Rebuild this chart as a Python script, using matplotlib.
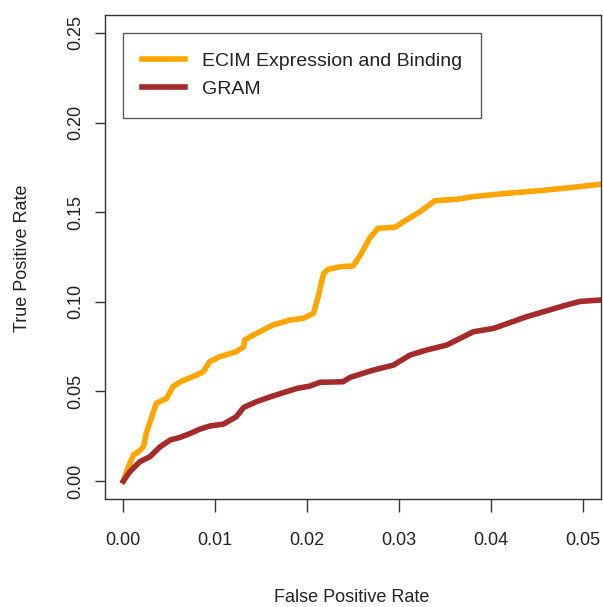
import numpy as np
import matplotlib
matplotlib.use("Agg")
import matplotlib.pyplot as plt

# ROC curves (false positive rate vs true positive rate)
ecim_fpr = [0.0000, 0.0005, 0.0011, 0.0016, 0.0022, 0.0025, 0.0031, 0.0036, 0.0047,
            0.0054, 0.0062, 0.0080, 0.0087, 0.0094, 0.0105, 0.0123, 0.0131, 0.0132,
            0.0145, 0.0163, 0.0181, 0.0196, 0.0207, 0.0212, 0.0218, 0.0223, 0.0236,
            0.0250, 0.0258, 0.0268, 0.0277, 0.0296, 0.0305, 0.0323, 0.0339, 0.0363,
            0.0381, 0.0417, 0.0453, 0.0490, 0.0519]
ecim_tpr = [0.0000, 0.0073, 0.0145, 0.0162, 0.0191, 0.0266, 0.0359, 0.0434, 0.0461,
            0.0526, 0.0554, 0.0592, 0.0610, 0.0666, 0.0694, 0.0722, 0.0749, 0.0787,
            0.0824, 0.0871, 0.0898, 0.0908, 0.0936, 0.1028, 0.1159, 0.1181, 0.1196,
            0.1200, 0.1261, 0.1354, 0.1410, 0.1416, 0.1447, 0.1503, 0.1564, 0.1572,
            0.1587, 0.1605, 0.1620, 0.1639, 0.1656]

gram_fpr = [0.0000, 0.0007, 0.0018, 0.0029, 0.0040, 0.0051, 0.0062, 0.0073, 0.0083,
            0.0094, 0.0109, 0.0123, 0.0131, 0.0145, 0.0160, 0.0174, 0.0189, 0.0203,
            0.0214, 0.0239, 0.0247, 0.0272, 0.0294, 0.0312, 0.0330, 0.0352, 0.0381,
            0.0403, 0.0439, 0.0482, 0.0497, 0.0519]
gram_tpr = [0.0000, 0.0052, 0.0108, 0.0136, 0.0191, 0.0229, 0.0244, 0.0266, 0.0289,
            0.0307, 0.0318, 0.0359, 0.0411, 0.0443, 0.0470, 0.0493, 0.0517, 0.0530,
            0.0551, 0.0554, 0.0579, 0.0619, 0.0647, 0.0703, 0.0731, 0.0759, 0.0833,
            0.0852, 0.0917, 0.0982, 0.1002, 0.1010]

x_ticks = [0.00, 0.01, 0.02, 0.03, 0.04, 0.05]
y_ticks = [0.00, 0.05, 0.10, 0.15, 0.20, 0.25]

plt.rcParams['font.family'] = ['Liberation Sans', 'DejaVu Sans']

fig = plt.figure(figsize=(6.03, 6.07), dpi=100)
ax = fig.add_axes([105 / 603, 108 / 607, 496 / 603, 484 / 607])

ax.plot(ecim_fpr, ecim_tpr, color='#FFA500', lw=4.0, solid_joinstyle='round',
        label='ECIM Expression and Binding')
ax.plot(gram_fpr, gram_tpr, color='#A52A2A', lw=4.0, solid_joinstyle='round',
        label='GRAM')

ax.set_xlim(-0.00199, 0.05198)
ax.set_ylim(-0.0100, 0.2600)

ax.set_xticks(x_ticks)
ax.set_xticklabels(['%.2f' % v for v in x_ticks])
ax.set_yticks(y_ticks)
ax.set_yticklabels(['%.2f' % v for v in y_ticks], rotation=90, va='center')

for s in ax.spines.values():
    s.set_color('#333333')
    s.set_linewidth(1.0)
ax.tick_params(axis='x', length=9, width=1, color='#333333', pad=15,
               labelsize=13, labelcolor='#222222')
ax.tick_params(axis='y', length=7, width=1, color='#333333', pad=8,
               labelsize=13, labelcolor='#222222')

fig.text(352 / 603, 1 - 597 / 607, 'False Positive Rate', ha='center', va='center',
         fontsize=13, color='#222222')
fig.text(22.5 / 603, 1 - 258 / 607, 'True Positive Rate', ha='center', va='center',
         rotation=90, fontsize=13, color='#222222')

leg = ax.legend(loc='upper left', bbox_to_anchor=(0.036, 0.963), fontsize=14,
                frameon=True, fancybox=False, borderpad=1.0, labelspacing=0.55,
                handlelength=2.2, handletextpad=0.85, borderaxespad=0)
leg.get_frame().set_edgecolor('#333333')
leg.get_frame().set_linewidth(1.0)
for t in leg.get_texts():
    t.set_color('#222222')

fig.savefig('out.png', dpi=100)
